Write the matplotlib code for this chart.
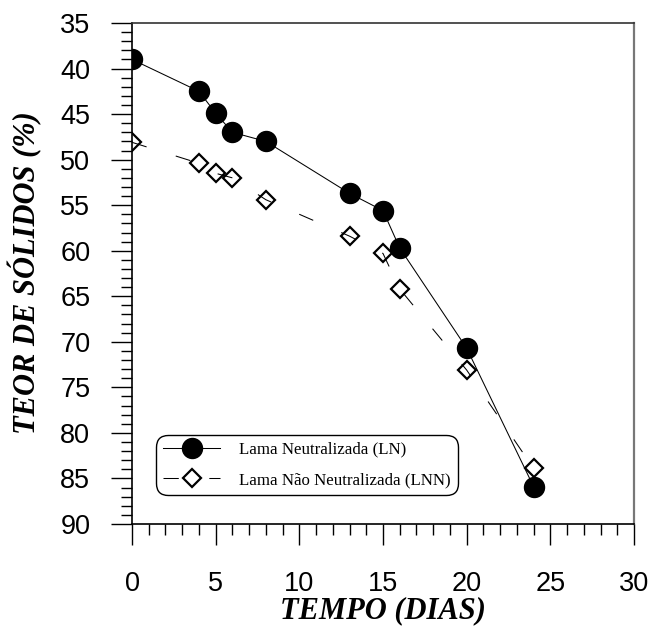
import matplotlib
matplotlib.use("Agg")
import matplotlib.pyplot as plt
from matplotlib.ticker import MultipleLocator

# dados
dias_ln = [0, 4, 5, 6, 8, 13, 15, 16, 20, 24]
teor_ln = [39.0, 42.5, 44.9, 47.0, 48.0, 53.7, 55.6, 59.7, 70.7, 85.9]

dias_lnn = [0, 4, 5, 6, 8, 13, 15, 16, 20, 24]
teor_lnn = [48.1, 50.4, 51.5, 52.0, 54.4, 58.4, 60.3, 64.2, 73.1, 83.9]

rotulo_ln = "Lama Neutralizada (LN)"
rotulo_lnn = "Lama Não Neutralizada (LNN)"

plt.rcParams['lines.scale_dashes'] = False

fig = plt.figure(figsize=(6.52, 6.35), dpi=100)
ax = fig.add_axes([132/652, 1 - 524/635, 502/652, 501/635])

l2, = ax.plot(dias_lnn, teor_lnn, color='black', lw=0.75, dashes=(11, 22),
              marker='D', ms=9.6, mfc='none', mec='black', mew=1.6,
              label=rotulo_lnn, zorder=2)
l1, = ax.plot(dias_ln, teor_ln, color='black', lw=0.75, marker='o', ms=14.4,
              mfc='black', mec='black', label=rotulo_ln, zorder=3)

ax.set_xlim(0, 30)
ax.set_ylim(90, 35)
ax.xaxis.set_major_locator(MultipleLocator(5))
ax.xaxis.set_minor_locator(MultipleLocator(1))
ax.yaxis.set_major_locator(MultipleLocator(5))
ax.yaxis.set_minor_locator(MultipleLocator(1))

ax.tick_params(which='major', direction='out', length=15, width=1, color='black')
ax.tick_params(which='minor', direction='out', length=8, width=1, color='black')
ax.tick_params(axis='x', which='major', pad=19)
ax.tick_params(axis='y', which='major', pad=15)
for lab in ax.get_xticklabels() + ax.get_yticklabels():
    lab.set_fontfamily('Liberation Sans')
    lab.set_fontsize(19.5)

ax.spines['left'].set_linewidth(1.2)
ax.spines['bottom'].set_linewidth(1.2)
ax.spines['top'].set_color('#333333')
ax.spines['top'].set_linewidth(1.2)
ax.spines['right'].set_color('#777777')
ax.spines['right'].set_linewidth(1.6)

fig.text(25/652, 1 - 273/635, 'TEOR DE SÓLIDOS (%)', rotation=90,
         ha='center', va='center', fontsize=22, fontweight='bold',
         fontstyle='italic', family='Liberation Serif')
fig.text(383/652, 1 - 611/635, 'TEMPO (DIAS)', ha='center', va='center',
         fontsize=22, fontweight='bold', fontstyle='italic',
         family='Liberation Serif')

leg = ax.legend(handles=[l1, l2], loc='lower left',
                bbox_to_anchor=(0.048, 0.058), borderaxespad=0,
                prop={'family': 'Liberation Serif', 'size': 12.2},
                numpoints=1, handlelength=3.4, handletextpad=1.1,
                labelspacing=0.85, borderpad=0.4, fancybox=True,
                framealpha=1, edgecolor='black')
leg.get_frame().set_linewidth(1.0)
leg.get_frame().set_boxstyle('round', pad=0, rounding_size=0.7)

fig.savefig('out.png', dpi=100)
